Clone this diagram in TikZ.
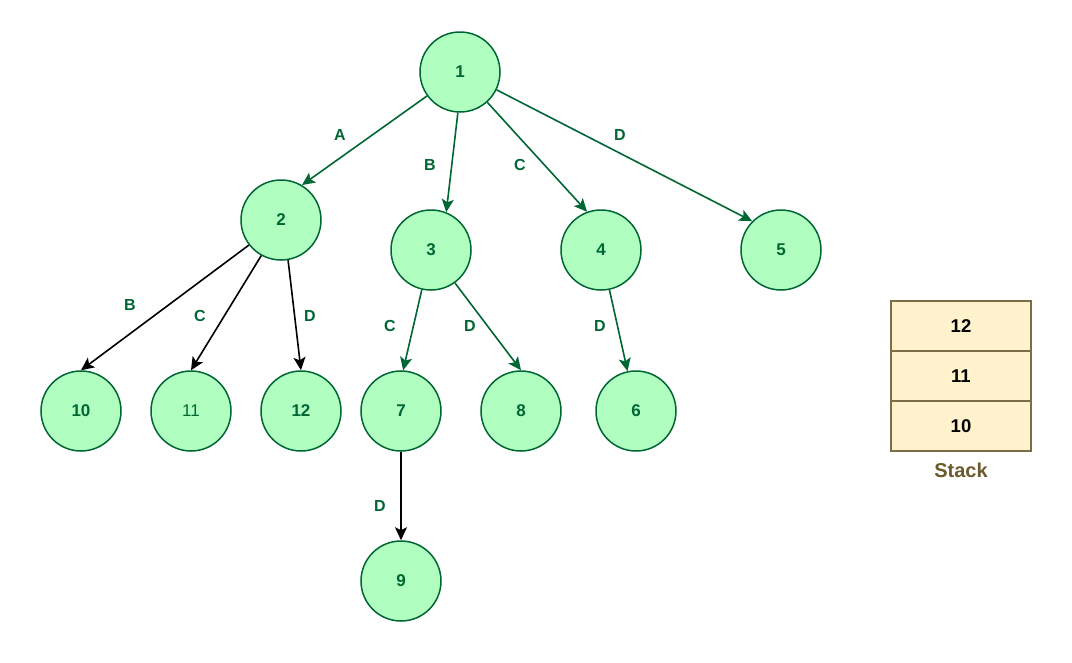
\documentclass[tikz,border=0pt]{standalone}
\usepackage{fontspec}
\setmainfont{Liberation Sans}
\usetikzlibrary{arrows.meta}
\definecolor{nodefill}{HTML}{B0FFC0}
\definecolor{nodedraw}{HTML}{006633}
\definecolor{stackfill}{HTML}{FFF2CC}
\definecolor{stackdraw}{HTML}{7D6D45}
\definecolor{stacktext}{HTML}{6B5A2E}

\begin{document}
\begin{tikzpicture}[x=1pt,y=-1pt]
\tikzstyle{vert}=[draw=nodedraw,fill=nodefill,shape=circle,line width=1.5pt,minimum size=80pt,inner sep=0pt,text=nodedraw,font=\bfseries\fontsize{17}{19}\selectfont];
\tikzstyle{grn}=[draw=nodedraw,line width=1.6pt,-{Stealth[length=13pt,width=12pt,inset=3pt]}];
\tikzstyle{blk}=[draw=black,line width=1.6pt,-{Stealth[length=13pt,width=12pt,inset=3pt]}];
\tikzstyle{lbl}=[text=nodedraw,font=\bfseries\fontsize{16}{18}\selectfont];
\tikzstyle{cell}=[draw=stackdraw,fill=stackfill,line width=1.5pt,minimum width=140pt,minimum height=50pt,inner sep=0pt,font=\bfseries\fontsize{18.5}{20}\selectfont];
\useasboundingbox (0,0) rectangle (1072,662);
% tree
\node[vert] (n1) at (460,72) {1};
\node[vert] (n2) at (281,220) {2};
\node[vert] (n3) at (431,250) {3};
\node[vert] (n4) at (601,250) {4};
\node[vert] (n5) at (781,250) {5};
\node[vert] (n10) at (81,411) {10};
\node[vert,font=\fontsize{17}{19}\selectfont] (n11) at (191,411) {11};
\node[vert] (n12) at (301,411) {12};
\node[vert] (n7) at (401,411) {7};
\node[vert] (n8) at (521,411) {8};
\node[vert] (n6) at (636,411) {6};
\node[vert] (n9) at (401,581) {9};
% edges
\draw[grn] (n1.216) -- (n2.59);
\draw[grn] (n1.267) -- (n3.68);
\draw[grn] (n1.312) -- (n4.110);
\draw[grn] (n1.334) -- (n5.135);
\draw[blk] (n2.218) -- (n10.north);
\draw[blk] (n2.241) -- (n11.north);
\draw[blk] (n2.280) -- (n12.north);
\draw[grn] (n3.257) -- (n7.87);
\draw[grn] (n3.306) -- (n8.north);
\draw[grn] (n4.282) -- (n6.102);
\draw[blk] (n7) -- (n9);
% labels
\node[lbl] (la) at (340,135) {A};
\node[lbl] (lb) at (430,165) {B};
\node[lbl] (lc) at (520,165) {C};
\node[lbl] (ld) at (620,135) {D};
\node[lbl] (lb2) at (130,305) {B};
\node[lbl] (lc2) at (200,316) {C};
\node[lbl] (ld2) at (310,316) {D};
\node[lbl] (lc3) at (390,326) {C};
\node[lbl] (ld3) at (470,326) {D};
\node[lbl] (ld4) at (600,326) {D};
\node[lbl] (ld5) at (380,506) {D};
% stack
\node[cell] (s12) at (961,326) {12};
\node[cell] (s11) at (961,376) {11};
\node[cell] (s10) at (961,426) {10};
\node[text=stacktext,font=\bfseries\fontsize{20}{22}\selectfont] (stk) at (961,470) {Stack};
\end{tikzpicture}
\end{document}
